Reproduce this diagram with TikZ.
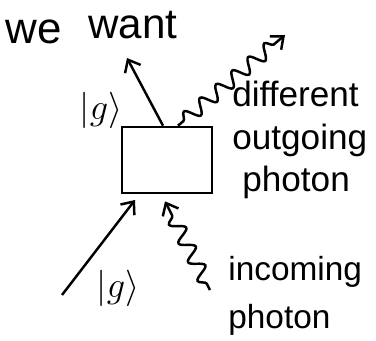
\documentclass[tikz,border=0pt]{standalone}
\usepackage{fontspec}
\setmainfont{Liberation Sans}
\usetikzlibrary{arrows.meta,decorations.pathmorphing,positioning}

\begin{document}
\begin{tikzpicture}[
    x=0.02cm, y=-0.02cm,
    hand/.style={font=\fontsize{20}{24}\selectfont, inner sep=0pt},
    atom/.style={draw, line width=1.5pt, minimum width=1.8cm,
                 minimum height=1.32cm},
    track/.style={line width=1.4pt, -{Straight Barb[length=6pt,width=10pt]}},
    photon/.style={track, decorate,
                   decoration={snake, amplitude=4pt, segment length=12pt,
                               pre length=4pt, post length=7pt}}
]
  \useasboundingbox (0,0) rectangle (376,341);

  % Heading
  \node[hand, font=\fontsize{25}{26}\selectfont] (we)   at (34,32) {we};
  \node[hand, font=\fontsize{24}{26}\selectfont] (want) at (133,25) {want};

  % The atom
  \node[atom] (box) at (167,160) {};

  % Atom in and out
  \coordinate (gin)  at (62,295);
  \coordinate (gout) at (127,58);
  \coordinate (hit)  at (135,200);
  \draw[track] (gin) -- (hit);
  \draw[track] ([xshift=-0.08cm]box.north) -- (gout);
  \node[hand, font=\fontsize{22}{24}\selectfont] (gtop) at (101,110) {$|g\rangle$};
  \node[hand, font=\fontsize{22}{24}\selectfont] (gbot) at (118,288) {$|g\rangle$};

  % Photon in and out
  \coordinate (phin)  at (210,290);
  \coordinate (phout) at (285,35);
  \draw[photon] ([xshift=0.22cm]box.north) -- (phout);
  \draw[photon] (phin) -- ([xshift=-0.04cm,yshift=-0.14cm]box.south);

  % Labels
  \node[hand, anchor=west, align=left] (outlbl) at (232,140)
    {different\\outgoing\\\hspace{0.2cm}photon};
  \node[hand, anchor=west, align=left, font=\fontsize{19}{27}\selectfont]
    (inlbl) at (228,296) {incoming\\photon};
\end{tikzpicture}
\end{document}
